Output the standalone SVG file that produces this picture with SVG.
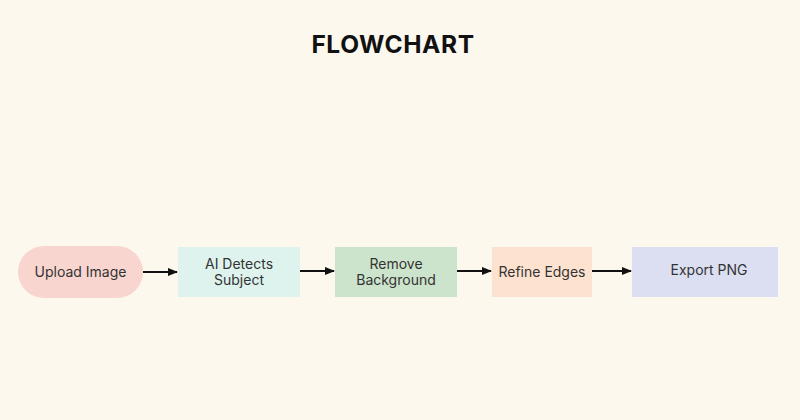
<svg xmlns="http://www.w3.org/2000/svg" width="800" height="420" viewBox="0 0 800 420">
<defs>
<marker id="ah" viewBox="0 0 10 10" refX="9" refY="5" markerWidth="5" markerHeight="5" orient="auto"><path d="M0,1 L10,5 L0,9 z" fill="#111"/></marker>
<style>
.t{font-family:"Inter","Liberation Sans",sans-serif;font-size:14px;fill:#333;text-anchor:middle}
.c{stroke:#111;stroke-width:2;fill:none;marker-end:url(#ah)}
</style>
</defs>
<rect width="800" height="420" fill="#fdf8ee"/>
<text x="393" y="53" style="font-family:'Inter','Liberation Sans',sans-serif;font-size:24.5px;font-weight:700;fill:#111;text-anchor:middle;letter-spacing:0.6px">FLOWCHART</text>
<g id="n1"><rect x="18" y="246" width="125" height="52" rx="26" fill="#f9d5d0"/><text class="t" x="80.5" y="277">Upload Image</text></g>
<g id="n2"><rect x="178" y="247" width="122" height="50" fill="#dff3ee"/><text class="t" x="239" y="269">AI Detects</text><text class="t" x="239" y="285">Subject</text></g>
<g id="n3"><rect x="335" y="247" width="122" height="50" fill="#cde4cc"/><text class="t" x="396" y="269">Remove</text><text class="t" x="396" y="285">Background</text></g>
<g id="n4"><rect x="492" y="247" width="100" height="50" fill="#fde3cf"/><text class="t" x="542" y="277">Refine Edges</text></g>
<g id="n5"><rect x="632" y="247" width="146" height="50" fill="#dcdff2"/><text class="t" x="709" y="275">Export PNG</text></g>
<g id="connectors">
<line class="c" x1="143" y1="272" x2="177" y2="272"/>
<line class="c" x1="300" y1="271" x2="334" y2="271"/>
<line class="c" x1="457" y1="271" x2="491" y2="271"/>
<line class="c" x1="592" y1="271" x2="631" y2="271"/>
</g>
</svg>
